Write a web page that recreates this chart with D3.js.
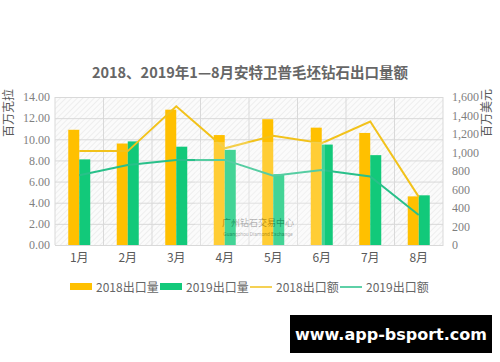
<!DOCTYPE html>
<html>
<head>
<meta charset="utf-8">
<script src="https://cdn.jsdelivr.net/npm/d3@7"></script>
<style>
	body { margin: 0; background: #fff; }
	svg { display: block; }
	.tick text { font-family: "Liberation Serif", "Noto Sans CJK SC", serif; fill: #7f7f7f; font-size: 12px; }
</style>
</head>
<body>
<script>
// data
var months = ['1月', '2月', '3月', '4月', '5月', '6月', '7月', '8月'];
var vol2018 = [10.9, 9.6, 12.8, 10.4, 11.9, 11.1, 10.6, 4.6];
var vol2019 = [8.1, 9.8, 9.3, 9.0, 6.7, 9.5, 8.5, 4.7];
var val2018 = [1015, 1015, 1500, 1045, 1180, 1100, 1335, 520];
var val2019 = [755, 865, 920, 920, 750, 810, 740, 325];
var leftTicks = [0, 2, 4, 6, 8, 10, 12, 14];
var rightTicks = [0, 200, 400, 600, 800, 1000, 1200, 1400, 1600];

var margin = { top: 97, right: 57, bottom: 117, left: 55 };
var width = 500 - margin.left - margin.right,
	height = 362 - margin.top - margin.bottom;

var c2018 = '#ffc000', c2019 = '#12c97a',
	l2018 = '#f2c21b', l2019 = '#29c08a';

var x = d3.scaleBand().domain(months).range([0, width]),
	yL = d3.scaleLinear().domain([0, 14]).range([height, 0]),
	yR = d3.scaleLinear().domain([0, 1600]).range([height, 0]);

var svgRoot = d3.select('body').append('svg')
	.attr('width', 500)
	.attr('height', 362);

// hatch background
var defs = svgRoot.append('defs');
var pat = defs.append('pattern')
	.attr('id', 'hatch')
	.attr('width', 4).attr('height', 4)
	.attr('patternUnits', 'userSpaceOnUse')
	.attr('patternTransform', 'rotate(45)');
pat.append('rect').attr('width', 4).attr('height', 4).attr('fill', '#fbfbfb');
pat.append('line').attr('x1', 0).attr('y1', 0).attr('x2', 0).attr('y2', 4)
	.attr('stroke', '#e6e6e6').attr('stroke-width', 1.2);

svgRoot.append('text')
	.attr('x', 250)
	.attr('y', 78)
	.attr('text-anchor', 'middle')
	.style('font-family', '"Noto Sans CJK SC", sans-serif')
	.style('font-weight', 'bold')
	.style('font-size', '14.5px')
	.style('fill', '#666')
	.text('2018、2019年1—8月安特卫普毛坯钻石出口量额');

var svg = svgRoot.append('g')
	.attr('transform', 'translate(' + margin.left + ',' + margin.top + ')');

svg.append('rect')
	.attr('width', width)
	.attr('height', height)
	.attr('fill', 'url(#hatch)');

// grid
svg.append('g')
	.attr('class', 'grid')
	.call(d3.axisLeft(yL).tickValues(leftTicks).tickSize(-width).tickFormat(''))
	.call(function(g) { g.select('.domain').remove(); })
	.selectAll('line').attr('stroke', '#d9d9d9');

svg.append('g')
	.attr('class', 'grid')
	.selectAll('line')
	.data(months.slice(1).concat(['end']))
	.enter().append('line')
		.attr('x1', function(d, i) { return x.step() * (i + 1); })
		.attr('x2', function(d, i) { return x.step() * (i + 1); })
		.attr('y1', 0)
		.attr('y2', height)
		.attr('stroke', '#d9d9d9');

svg.append('line')
	.attr('x1', 0).attr('x2', 0).attr('y1', 0).attr('y2', height)
	.attr('stroke', '#d9d9d9');

// bars
var bw = 11;
svg.selectAll('.bar18')
	.data(vol2018)
	.enter().append('rect')
		.attr('class', 'bar18')
		.attr('x', function(d, i) { return x(months[i]) + x.bandwidth() / 2 - bw; })
		.attr('y', function(d) { return yL(d); })
		.attr('width', bw)
		.attr('height', function(d) { return height - yL(d); })
		.attr('fill', c2018);

svg.selectAll('.bar19')
	.data(vol2019)
	.enter().append('rect')
		.attr('class', 'bar19')
		.attr('x', function(d, i) { return x(months[i]) + x.bandwidth() / 2; })
		.attr('y', function(d) { return yL(d); })
		.attr('width', bw)
		.attr('height', function(d) { return height - yL(d); })
		.attr('fill', c2019);

// lines
var valLine = d3.line()
	.x(function(d, i) { return x(months[i]) + x.bandwidth() / 2; })
	.y(function(d) { return yR(d); });

svg.append('path')
	.datum(val2018)
	.attr('d', valLine)
	.style('fill', 'none')
	.style('stroke', l2018)
	.style('stroke-width', '2px');

svg.append('path')
	.datum(val2019)
	.attr('d', valLine)
	.style('fill', 'none')
	.style('stroke', l2019)
	.style('stroke-width', '2px');

// watermark
var wm = svg.append('g').attr('opacity', 0.35);
wm.append('rect')
	.attr('x', 140).attr('y', 45).attr('width', 130).attr('height', 105)
	.attr('fill', '#fff').attr('opacity', 0.6);
wm.append('text')
	.attr('x', 203).attr('y', 129)
	.attr('text-anchor', 'middle')
	.style('font-family', '"Noto Sans CJK SC", sans-serif')
	.style('font-size', '9px')
	.style('fill', '#333')
	.text('广州钻石交易中心');
wm.append('text')
	.attr('x', 203).attr('y', 139)
	.attr('text-anchor', 'middle')
	.style('font-family', 'Roboto, sans-serif')
	.style('font-size', '5px')
	.style('fill', '#333')
	.text('Guangzhou Diamond Exchange');

// axes
svg.append('g')
	.attr('transform', 'translate(0,' + height + ')')
	.call(d3.axisBottom(x).tickSize(0).tickPadding(8))
	.call(function(g) { g.select('.domain').attr('stroke', '#d9d9d9'); })
	.selectAll('text')
		.style('font-family', '"Noto Sans CJK SC", sans-serif')
		.style('fill', '#595959')
		.style('font-size', '12px');

svg.append('g')
	.call(d3.axisLeft(yL).tickValues(leftTicks).tickSize(0).tickPadding(5)
		.tickFormat(d3.format('.2f')))
	.call(function(g) { g.select('.domain').remove(); });

svg.append('g')
	.attr('transform', 'translate(' + width + ',0)')
	.call(d3.axisRight(yR).tickValues(rightTicks).tickSize(0).tickPadding(9)
		.tickFormat(d3.format(',')))
	.call(function(g) { g.select('.domain').remove(); });

svgRoot.append('text')
	.attr('transform', 'translate(13,113) rotate(-90)')
	.attr('text-anchor', 'middle')
	.style('font-family', '"Noto Sans CJK SC", sans-serif')
	.style('font-size', '12px')
	.style('fill', '#595959')
	.text('百万克拉');

svgRoot.append('text')
	.attr('transform', 'translate(491,113) rotate(-90)')
	.attr('text-anchor', 'middle')
	.style('font-family', '"Noto Sans CJK SC", sans-serif')
	.style('font-size', '12px')
	.style('fill', '#595959')
	.text('百万美元');

// legend
var legendItems = [
	{ name: '2018出口量', color: c2018, type: 'rect', x: 70 },
	{ name: '2019出口量', color: c2019, type: 'rect', x: 160 },
	{ name: '2018出口额', color: l2018, type: 'line', x: 250 },
	{ name: '2019出口额', color: l2019, type: 'line', x: 340 }
];
var legend = svgRoot.append('g').attr('transform', 'translate(0,287)');
legendItems.forEach(function(d) {
	if (d.type == 'rect') {
		legend.append('rect')
			.attr('x', d.x).attr('y', -4).attr('width', 22).attr('height', 7)
			.attr('fill', d.color);
	} else {
		legend.append('line')
			.attr('x1', d.x).attr('x2', d.x + 22).attr('y1', 0).attr('y2', 0)
			.attr('stroke', d.color).attr('stroke-width', 1.5);
	}
	legend.append('text')
		.attr('x', d.x + 26).attr('y', 4.5)
		.style('font-family', '"Noto Sans CJK SC", sans-serif')
		.style('font-size', '12px')
		.style('fill', '#666')
		.text(d.name);
});

// site banner
svgRoot.append('rect')
	.attr('x', 290).attr('y', 315).attr('width', 202).attr('height', 38)
	.attr('fill', '#000');
svgRoot.append('text')
	.attr('x', 391).attr('y', 340)
	.attr('text-anchor', 'middle')
	.style('font-family', '"DejaVu Sans", sans-serif')
	.style('font-weight', 'bold')
	.style('font-size', '16px')
	.style('fill', '#fff')
	.text('www.app-bsport.com');
</script>
</body>
</html>
